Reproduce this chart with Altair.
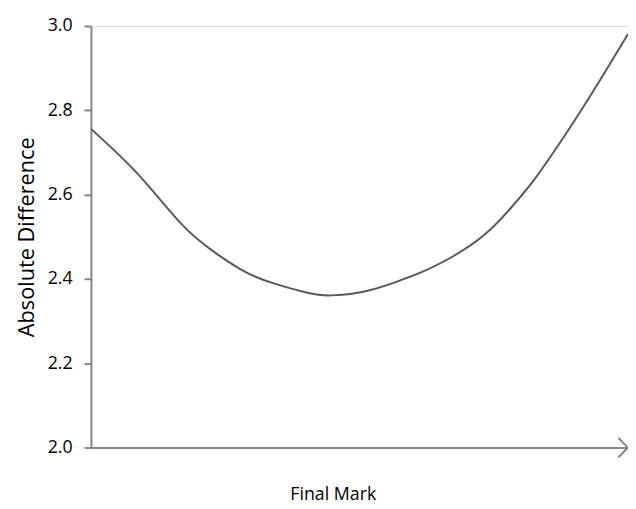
import altair as alt
import pandas as pd

# Final Mark (0-100 across the axis) and Absolute Difference
final_mark = [0, 8.8, 17.1, 23.5, 29.0, 34.6, 40.1, 44.7, 51.1, 56.6, 62.1, 67.6, 73.2, 78.3, 82.4, 86.0, 89.3, 93.4, 97.1, 100]
abs_diff = [2.756, 2.648, 2.527, 2.459, 2.415, 2.387, 2.368, 2.361, 2.371, 2.392, 2.419, 2.455, 2.504, 2.570, 2.633, 2.698, 2.761, 2.843, 2.920, 2.981]

y_ticks = [2.0, 2.2, 2.4, 2.6, 2.8, 3.0]

df = pd.DataFrame({"mark": final_mark, "diff": abs_diff})
arrow_df = pd.DataFrame({"mark": [100], "diff": [2.0]})

FONT = "Open Sans"

x_scale = alt.Scale(domain=[0, 100], nice=False, zero=False)
y_scale = alt.Scale(domain=[2.0, 3.0], nice=False, zero=False)

line = alt.Chart(df).mark_line(
    color="#595959", strokeWidth=2, interpolate="natural", clip=True
).encode(
    x=alt.X("mark:Q", scale=x_scale, title="Final Mark",
            axis=alt.Axis(labels=False, ticks=False, grid=False,
                          domainColor="#868686", domainWidth=2,
                          titleFont=FONT, titleFontSize=18, titleFontWeight="normal",
                          titleColor="#000000", titleX=245, titleY=48,
                          titleAlign="center", titleBaseline="middle")),
    y=alt.Y("diff:Q", scale=y_scale, title="Absolute Difference",
            axis=alt.Axis(values=y_ticks, format=".1f", grid=False,
                          domainColor="#868686", domainWidth=2,
                          tickColor="#868686", tickWidth=2, tickSize=7,
                          labelFont=FONT, labelFontSize=18, labelColor="#000000",
                          labelPadding=12,
                          titleFont=FONT, titleFontSize=22, titleFontWeight="normal",
                          titleColor="#000000", titlePadding=9)),
)

arrow = alt.Chart(arrow_df).mark_point(
    shape="M-1,-1L0,0L-1,1", filled=False, stroke="#868686", strokeWidth=2,
    size=380, clip=False, opacity=1
).encode(
    x=alt.X("mark:Q", scale=x_scale),
    y=alt.Y("diff:Q", scale=y_scale),
)

chart = (line + arrow).properties(
    width=544, height=427,
    autosize=alt.AutoSizeParams(type="none"),
    padding={"left": 84, "top": 15, "right": 0, "bottom": 59},
).configure_view(stroke=None).configure(background="#ffffff")

chart.save("out.html", embed_options={"renderer": "svg", "actions": False})
